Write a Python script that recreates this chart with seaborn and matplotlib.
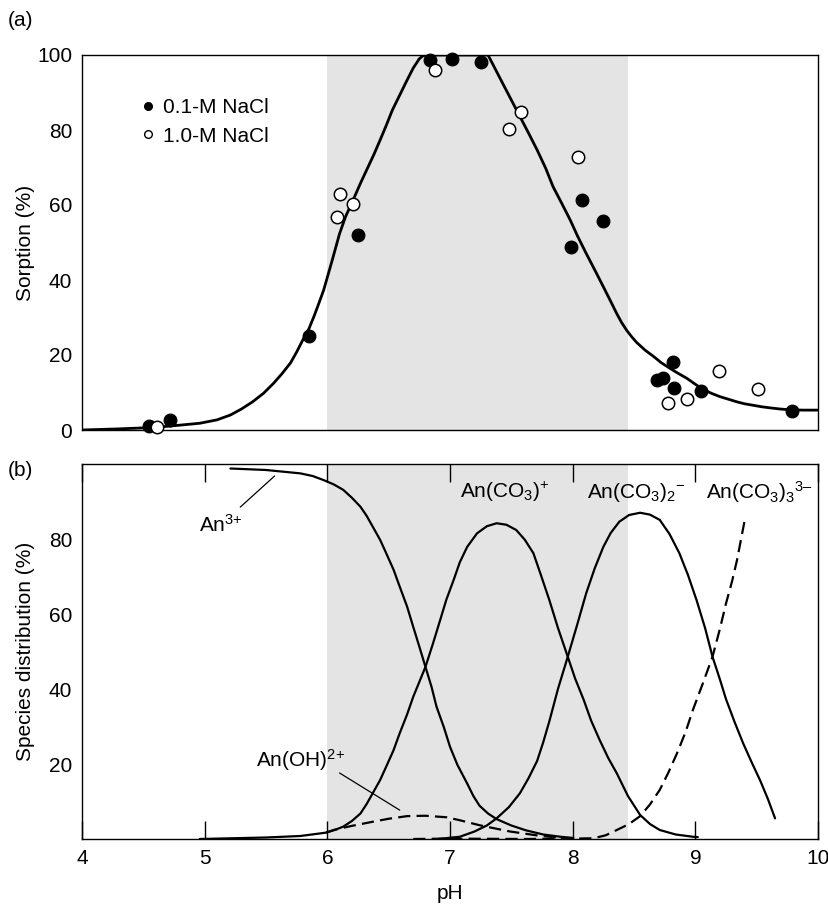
import numpy as np
import pandas as pd
import matplotlib
matplotlib.use("Agg")
import matplotlib.pyplot as plt
from matplotlib.lines import Line2D
import seaborn as sns

# ---------------- data ----------------
# (a) sorption data points
ph_01M = [4.55, 4.72, 5.85, 6.25, 6.84, 7.02, 7.25, 7.99, 8.08, 8.25,
          8.69, 8.74, 8.82, 8.83, 9.05, 9.79]
sorp_01M = [1.1, 2.7, 25.0, 52.0, 98.7, 98.9, 98.1, 48.9, 61.3, 55.7,
            13.3, 13.9, 18.1, 11.2, 10.4, 5.1]
ph_10M = [4.61, 6.08, 6.10, 6.21, 6.88, 7.48, 7.58, 8.04, 8.78, 8.93, 9.19, 9.51]
sorp_10M = [0.8, 56.8, 63.0, 60.3, 96.0, 80.2, 84.8, 72.7, 7.1, 8.2, 15.6, 10.8]

# (a) sorption model curve
curve_ph = [4.0, 4.3, 4.6, 4.80, 4.96, 5.10, 5.21, 5.30, 5.39, 5.48, 5.56, 5.63,
            5.70, 5.75, 5.80, 5.85, 5.89, 5.93, 5.97, 6.04, 6.10, 6.15, 6.21,
            6.27, 6.32, 6.38, 6.43, 6.48, 6.53, 6.59, 6.65, 6.70, 6.75, 6.78,
            6.81, 7.31, 7.37, 7.43, 7.50, 7.57, 7.64, 7.71, 7.78, 7.84, 7.91,
            7.98, 8.04, 8.11, 8.18, 8.25, 8.31, 8.36, 8.40, 8.44, 8.48, 8.52,
            8.59, 8.66, 8.72, 8.79, 8.86, 8.93, 9.00, 9.06, 9.13, 9.20, 9.27,
            9.34, 9.40, 9.47, 9.54, 9.61, 9.69, 9.77, 9.88, 10.0]
curve_y = [0.0, 0.3, 0.7, 1.3, 1.8, 2.7, 4.0, 5.6, 7.5, 9.8, 12.4, 15.0,
           17.9, 20.8, 24.0, 27.0, 30.2, 33.7, 37.3, 45.3, 52.4, 57.0, 61.3,
           65.8, 69.3, 73.5, 77.3, 81.2, 85.3, 89.3, 93.3, 96.5, 99.0, 99.8,
           100.0, 100.0, 96.2, 92.4, 88.0, 83.6, 79.2, 74.7, 69.8, 64.9, 60.5,
           56.0, 51.7, 47.1, 42.7, 38.2, 34.3, 31.0, 28.6, 26.6, 24.9, 23.4,
           21.3, 19.6, 18.0, 16.5, 15.1, 13.8, 12.2, 10.9, 9.8, 8.9, 8.2,
           7.5, 7.0, 6.6, 6.2, 5.9, 5.6, 5.4, 5.3, 5.3]

# (b) species distribution
an3_ph = [5.21, 5.50, 5.78, 5.88, 5.97, 6.05, 6.13, 6.20, 6.27, 6.32, 6.37,
          6.43, 6.48, 6.54, 6.59, 6.65, 6.70, 6.75, 6.80, 6.85, 6.89, 6.95,
          7.00, 7.06, 7.14, 7.19, 7.24, 7.31, 7.38, 7.50, 7.62, 7.76, 7.90, 8.00]
an3_y = [98.8, 98.4, 97.5, 96.8, 95.7, 94.6, 93.1, 91.0, 88.6, 86.2, 83.3,
         79.8, 76.2, 71.8, 67.3, 62.0, 56.6, 51.3, 45.9, 40.5, 35.3, 29.8,
         24.6, 19.8, 14.8, 11.5, 8.9, 6.8, 5.3, 3.6, 2.3, 1.2, 0.6, 0.3]

anco3_ph = [4.96, 5.50, 5.78, 5.99, 6.06, 6.13, 6.20, 6.27, 6.32, 6.37, 6.43,
            6.48, 6.54, 6.59, 6.65, 6.70, 6.75, 6.80, 6.86, 6.92, 6.97, 7.03,
            7.08, 7.14, 7.22, 7.30, 7.38, 7.46, 7.54, 7.61, 7.68, 7.74, 7.81,
            7.88, 7.96, 8.02, 8.09, 8.15, 8.22, 8.29, 8.36, 8.45, 8.55, 8.63,
            8.71, 8.84, 8.98, 9.02]
anco3_y = [0.0, 0.4, 0.8, 1.7, 2.4, 3.3, 4.8, 6.8, 9.3, 12.2, 15.7, 19.3,
           23.7, 28.2, 33.2, 37.9, 41.9, 45.9, 52.0, 58.4, 63.8, 69.1, 73.8,
           77.9, 81.5, 83.4, 84.2, 83.8, 82.4, 79.8, 76.2, 70.5, 63.7, 56.3,
           48.6, 42.8, 37.1, 31.6, 26.4, 21.6, 17.5, 11.5, 6.4, 4.0, 2.4, 1.2,
           0.6, 0.5]

anco32_ph = [6.90, 7.08, 7.20, 7.30, 7.38, 7.48, 7.57, 7.64, 7.71, 7.76, 7.81,
             7.88, 7.96, 8.04, 8.11, 8.18, 8.25, 8.31, 8.38, 8.46, 8.55, 8.63,
             8.71, 8.79, 8.87, 8.94, 9.01, 9.08, 9.14, 9.20, 9.25, 9.32, 9.39,
             9.46, 9.53, 9.59, 9.65]
anco32_y = [0.0, 0.6, 2.0, 3.6, 5.5, 8.5, 12.2, 16.2, 20.8, 25.8, 31.4,
            40.0, 48.6, 57.5, 65.5, 72.2, 77.9, 81.6, 84.6, 86.4, 87.0, 86.5,
            85.1, 81.3, 76.2, 70.4, 63.7, 56.2, 48.6, 42.6, 37.3, 31.2, 25.5,
            20.4, 15.5, 10.8, 5.5]

anoh_ph = [5.99, 6.05, 6.20, 6.37, 6.50, 6.65, 6.80, 6.97, 7.08, 7.25, 7.49,
           7.70, 7.90, 8.05]
anoh_y = [1.7, 2.4, 3.5, 4.6, 5.4, 6.1, 6.2, 5.8, 5.0, 3.6, 2.0, 1.0, 0.3, 0.1]

anco33_ph = [6.70, 7.00, 7.62, 8.00, 8.17, 8.27, 8.36, 8.46, 8.55, 8.63, 8.71,
             8.78, 8.85, 8.92, 8.98, 9.06, 9.14, 9.20, 9.25, 9.30, 9.34, 9.40]
anco33_y = [0.0, 0.1, 0.0, 0.1, 0.2, 1.0, 2.4, 4.0, 6.1, 9.2, 13.1, 17.7,
            22.8, 28.5, 34.4, 41.4, 48.6, 56.0, 62.8, 68.8, 74.4, 84.6]

band = (6.0, 8.45)
x_ticks = [4, 5, 6, 7, 8, 9, 10]

# ---------------- style ----------------
sns.set_theme(style="white")
plt.rcParams["font.family"] = ["Liberation Sans", "DejaVu Sans"]
plt.rcParams["mathtext.fontset"] = "custom"
plt.rcParams["mathtext.rm"] = "Liberation Sans"
plt.rcParams["mathtext.it"] = "Liberation Sans"
plt.rcParams["font.size"] = 15
plt.rcParams["text.color"] = "black"
plt.rcParams["axes.labelcolor"] = "black"
plt.rcParams["xtick.color"] = "black"
plt.rcParams["ytick.color"] = "black"
FS = 15

fig = plt.figure(figsize=(8.29, 9.05), dpi=100)
W, H = 829, 905
ax1 = fig.add_axes([82 / W, 1 - 430 / H, 736 / W, 375 / H])
ax2 = fig.add_axes([82 / W, 1 - 839 / H, 736 / W, 375 / H])

gray = "#e4e4e4"
for ax in (ax1, ax2):
    ax.set_facecolor("white")
    for s in ax.spines.values():
        s.set_color("black")
        s.set_linewidth(1.0)
        s.set_visible(True)
    ax.set_xlim(4, 10)
    ax.set_ylim(0, 100)
    ax.axvspan(*band, color=gray, zorder=0, lw=0)
    ax.tick_params(direction="in", length=13, width=1.0, color="black",
                   labelsize=FS, labelcolor="black", pad=7)

# ---- (a) ----
sns.lineplot(x=curve_ph, y=curve_y, ax=ax1, color="black", lw=2.0,
             estimator=None, sort=False, zorder=2)
sns.scatterplot(x=ph_01M, y=sorp_01M, ax=ax1, color="black", edgecolor="black",
                s=85, linewidth=0.8, zorder=3, clip_on=False, legend=False)
sns.scatterplot(x=ph_10M, y=sorp_10M, ax=ax1, color="white", edgecolor="black",
                s=80, linewidth=1.1, zorder=4, clip_on=False, legend=False)
ax1.set_xticks([5, 6, 7, 8, 9])
ax1.tick_params(axis="x", labelbottom=False)
ax1.set_yticks([0, 20, 40, 60, 80, 100])
ax1.set_ylabel("Sorption (%)", fontsize=FS, color="black")
ax1.yaxis.set_label_coords(-0.064, 0.5)
ax1.set_xlabel("")

handles = [
    Line2D([], [], ls="none", marker="o", ms=5.5, mfc="black", mec="black"),
    Line2D([], [], ls="none", marker="o", ms=5.5, mfc="white", mec="black", mew=1.0),
]
ax1.legend(handles, ["0.1-M NaCl", "1.0-M NaCl"], loc="upper left",
           bbox_to_anchor=(0.0815, 0.885), frameon=False, fontsize=FS,
           handlelength=0.6, handletextpad=0.4, labelspacing=0.45,
           borderpad=0, borderaxespad=0)

# ---- (b) ----
solid = dict(color="black", lw=1.6, estimator=None, sort=False)
sns.lineplot(x=an3_ph, y=an3_y, ax=ax2, **solid)
sns.lineplot(x=anco3_ph, y=anco3_y, ax=ax2, **solid)
sns.lineplot(x=anco32_ph, y=anco32_y, ax=ax2, **solid)
for xs, ys in ((anoh_ph, anoh_y), (anco33_ph, anco33_y)):
    sns.lineplot(x=xs, y=ys, ax=ax2, color="black", lw=1.6, estimator=None,
                 sort=False, dashes=False, linestyle=(0, (5.5, 2.8)))

ax2.set_xticks(x_ticks)
ax2.set_xticklabels([str(t) for t in x_ticks])
ax2.tick_params(axis="x", top=True, bottom=True)
ax2.set_yticks([20, 40, 60, 80])
ax2.set_ylabel("Species distribution (%)", fontsize=FS, color="black")
ax2.yaxis.set_label_coords(-0.064, 0.5)
ax2.set_xlabel("pH", fontsize=FS, color="black")
ax2.xaxis.set_label_coords(0.5, -0.12)

# species labels
ax2.text(5.13, 83.7, r"An$^{\text{3+}}$", ha="center", va="center", fontsize=FS)
ax2.plot([5.29, 5.57], [88.5, 96.8], color="black", lw=0.9)
ax2.text(5.78, 21.0, r"An(OH)$^{\text{2+}}$", ha="center", va="center", fontsize=FS)
ax2.plot([6.10, 6.59], [17.6, 7.7], color="black", lw=0.9)
ax2.text(7.45, 92.5, r"An(CO$_{\text{3}}$)$^{\text{+}}$",
         ha="center", va="center", fontsize=FS)
ax2.text(8.52, 92.5, r"An(CO$_{\text{3}}$)$_{\text{2}}{}^{\text{−}}$",
         ha="center", va="center", fontsize=FS)
ax2.text(9.52, 92.5, r"An(CO$_{\text{3}}$)$_{\text{3}}{}^{\text{3–}}$",
         ha="center", va="center", fontsize=FS)

fig.text(8 / W, 1 - 20 / H, "(a)", ha="left", va="center", fontsize=FS)
fig.text(8 / W, 1 - 470 / H, "(b)", ha="left", va="center", fontsize=FS)

fig.savefig("out.png", dpi=100, facecolor="white")
